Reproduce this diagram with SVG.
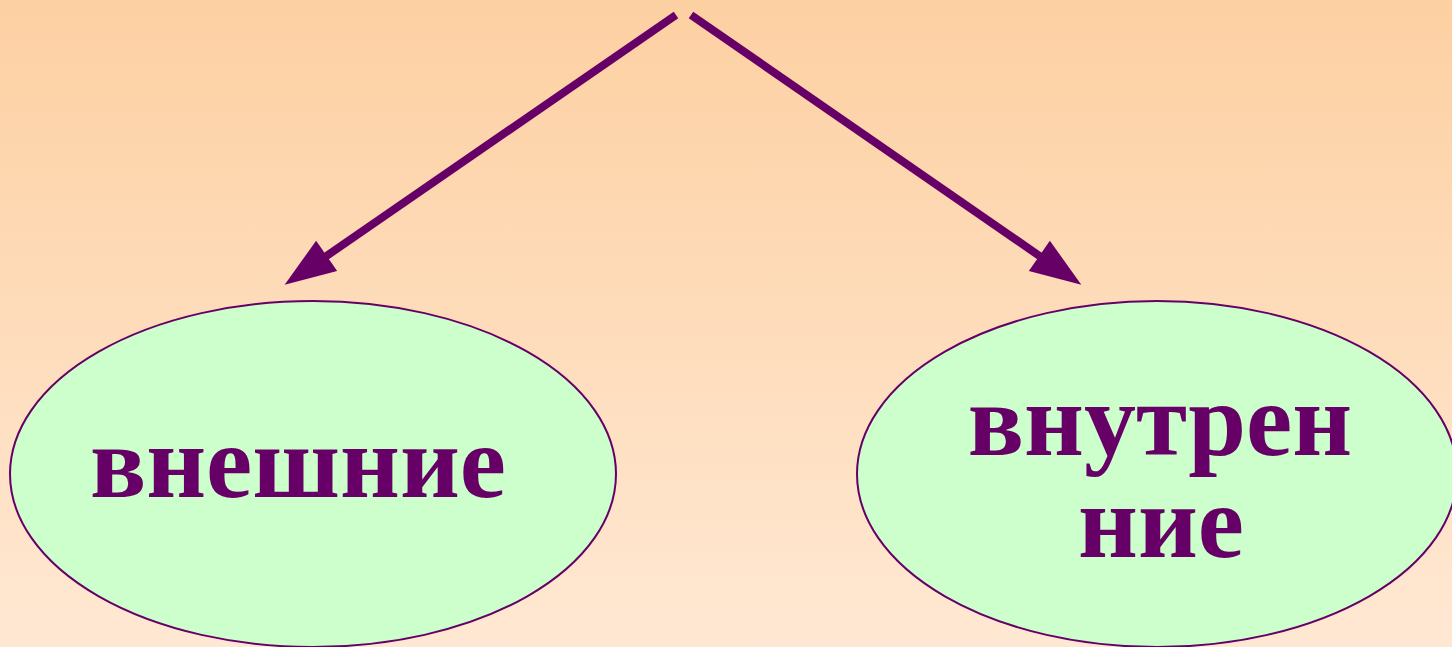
<svg xmlns="http://www.w3.org/2000/svg" width="1452" height="647" viewBox="0 0 1452 647">
<style>
.node ellipse{fill:#CCFFCC;stroke:#660066;stroke-width:2}
.node text{font-family:"Liberation Serif","Times New Roman",serif;font-weight:bold;font-size:104px;fill:#660066;text-anchor:middle}
.conn line{stroke:#660066;stroke-width:8;fill:none}
</style>
<defs>
<linearGradient id="bg" x1="0" y1="0" x2="0" y2="1">
<stop offset="0" stop-color="#FDD0A2"/>
<stop offset="1" stop-color="#FFE8D3"/>
</linearGradient>
<marker id="ah" markerUnits="userSpaceOnUse" markerWidth="60" markerHeight="40" refX="2" refY="18.5" orient="auto" overflow="visible">
<path d="M0,0 L51,18.5 L0,37 Z" fill="#660066"/>
</marker>
</defs>
<rect x="0" y="0" width="1452" height="647" fill="url(#bg)"/>
<g id="connectors" class="conn">
<line x1="676" y1="15" x2="325" y2="257" marker-end="url(#ah)"/>
<line x1="691" y1="15" x2="1041" y2="257" marker-end="url(#ah)"/>
</g>
<g id="node-vneshnie" class="node">
<ellipse cx="313" cy="474" rx="303" ry="173"/>
<text x="298" y="497">внешние</text>
</g>
<g id="node-vnutrennie" class="node">
<ellipse cx="1157" cy="474" rx="300" ry="173"/>
<text x="1160" y="455">внутрен</text>
<text x="1161" y="557">ние</text>
</g>
</svg>
